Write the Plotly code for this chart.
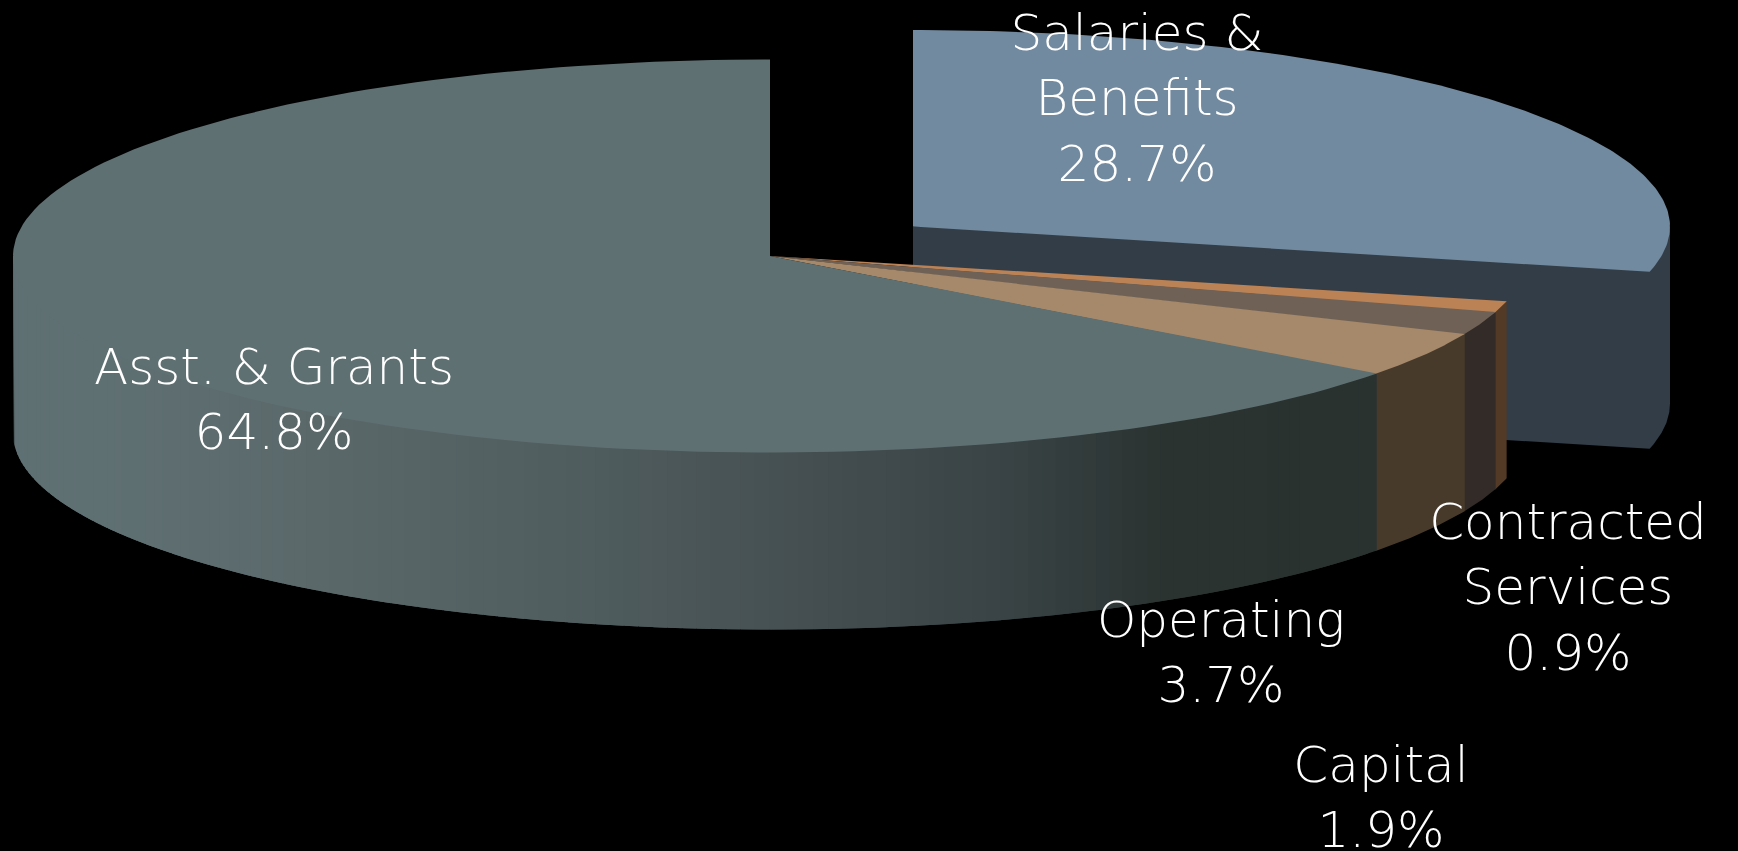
import numpy as np
import plotly.graph_objects as go

# Budget shares, listed clockwise from twelve o'clock
categories = ["Salaries & Benefits", "Contracted Services", "Capital", "Operating", "Asst. & Grants"]
shares = [28.7, 0.9, 1.9, 3.7, 64.8]
top_colors = ["#728a9f", "#bb8255", "#6f6156", "#a6896a", "#5f7073"]
side_colors = ["#333d47", "#533a27", "#322b27", "#483a2b", None]

# Each label: its text lines, the centre x and the y of the first line
label_lines = [["Salaries &", "Benefits"], ["Contracted", "Services"], ["Capital"], ["Operating"], ["Asst. & Grants"]]
label_x = [1137, 1568, 1381, 1221, 274]
label_y = [37, 526, 769, 624, 371]

WIDTH, HEIGHT = 1738, 851
RX, RY, DEPTH = 757, 196.5, 177
CENTER = (770, 256)
SALARIES_CENTER = (913, 226.5)
LINE_STEP = 65.5
FONT = dict(family="DejaVu Sans", size=50, color="#ffffff", weight=200)
SEAM = 0.004  # radians of overlap so neighbouring fills leave no hairline

# Shading along the rim of the largest slice, keyed on horizontal position
rim_x = [13, 100, 300, 600, 804, 1008, 1161, 1380]
rim_r = [0x5f, 0x5f, 0x5b, 0x4f, 0x45, 0x39, 0x2b, 0x2a]
rim_g = [0x70, 0x70, 0x69, 0x5c, 0x4f, 0x43, 0x33, 0x32]
rim_b = [0x73, 0x73, 0x6b, 0x5e, 0x51, 0x45, 0x31, 0x30]


def rim_point(center, theta, scale=1.0):
    """Point on the elliptical rim, theta in radians clockwise from the top."""
    return center[0] + scale * RX * np.sin(theta), center[1] - scale * RY * np.cos(theta)


def polygon(xs, ys, color):
    return go.Scatter(
        x=list(xs), y=list(ys), mode="lines", fill="toself", fillcolor=color,
        line=dict(width=0), hoverinfo="skip", showlegend=False,
    )


def wedge(center, t0, t1, color):
    t = np.linspace(t0, t1, 160)
    xs, ys = rim_point(center, t)
    return polygon(
        np.r_[center[0], xs, center[0]], np.r_[center[1], ys, center[1]], color
    )


def rim_band(center, t0, t1, color):
    # The upper edge tucks slightly inside the rim, under the top surface
    t = np.linspace(t0, t1, 40)
    ox, oy = rim_point(center, t)
    ix, iy = rim_point(center, t, 0.99)
    return polygon(
        np.r_[ix, ox[-1], ox[::-1], ox[0]],
        np.r_[iy, oy[-1], oy[::-1] + DEPTH, oy[0]],
        color,
    )


edges = np.r_[0, np.cumsum(shares)] / sum(shares) * 2 * np.pi
fig = go.Figure()

# Exploded slice: cut face and rim as one outline, top surface over it
s0, s1 = edges[0], edges[1]
cx, cy = SALARIES_CENTER
arc = np.linspace(np.pi / 2, s1, 40)
arc_x, arc_y = rim_point(SALARIES_CENTER, arc)
fig.add_trace(polygon(
    np.r_[cx, arc_x[0], arc_x, cx],
    np.r_[cy, arc_y[0], arc_y + DEPTH, cy + DEPTH],
    side_colors[0],
))
fig.add_trace(wedge(SALARIES_CENTER, s0, s1, top_colors[0]))

# Rim of the three thin slices, each running just under the next
for i in (1, 2, 3):
    fig.add_trace(rim_band(CENTER, edges[i], edges[i + 1] + SEAM, side_colors[i]))

# Largest slice rim, in narrow overlapping bands for the shading
a0, a1 = edges[4], 1.5 * np.pi
steps = np.linspace(a0, a1, 130)
overlap = steps[1] - steps[0]
for t0, t1 in zip(steps[:-1], steps[1:]):
    mid_x = rim_point(CENTER, 0.5 * (t0 + t1))[0]
    shade = "rgb({:.0f},{:.0f},{:.0f})".format(
        np.interp(mid_x, rim_x, rim_r),
        np.interp(mid_x, rim_x, rim_g),
        np.interp(mid_x, rim_x, rim_b),
    )
    fig.add_trace(rim_band(CENTER, t0, min(t1 + overlap, a1), shade))

# Top surfaces of the slices still in place
for i in (1, 2, 3):
    fig.add_trace(wedge(CENTER, edges[i], edges[i + 1] + SEAM, top_colors[i]))
fig.add_trace(wedge(CENTER, edges[4], edges[5], top_colors[4]))

# Labels, one text point per line so the line step stays exact
text_x, text_y, text = [], [], []
for lines, x, y, share in zip(label_lines, label_x, label_y, shares):
    rows = lines + [f"{share:.1f}%"]
    for n, row in enumerate(rows):
        text_x.append(x)
        text_y.append(y + n * LINE_STEP)
        text.append(row)
fig.add_trace(go.Scatter(
    x=text_x, y=text_y, text=text, mode="text", textposition="middle center",
    textfont=FONT, hoverinfo="skip", showlegend=False, cliponaxis=False,
))

fig.update_layout(
    width=WIDTH, height=HEIGHT,
    margin=dict(l=0, r=0, t=0, b=0),
    paper_bgcolor="#000000", plot_bgcolor="#000000",
    xaxis=dict(range=[0, WIDTH], visible=False, fixedrange=True),
    yaxis=dict(range=[HEIGHT, 0], visible=False, fixedrange=True),
    showlegend=False,
)
fig.write_html("out.html", config={"displayModeBar": False})
